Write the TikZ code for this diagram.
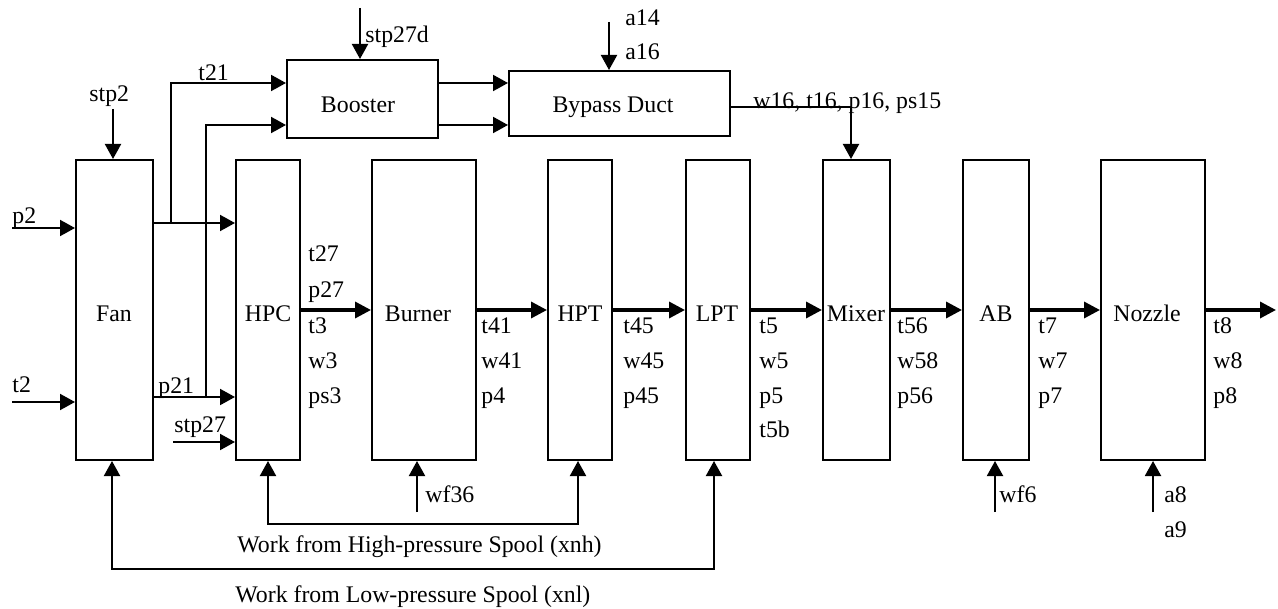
\documentclass[tikz,border=0pt]{standalone}
\usepackage{fontspec}
\setmainfont{Liberation Serif}
\usetikzlibrary{arrows.meta,fit}
\begin{document}
\begin{tikzpicture}[x=0.5pt,y=-0.5pt,
  box/.style={draw, line width=1pt, inner sep=0pt},
  flow/.style={line width=1.7pt, -{Triangle[length=8pt,width=8pt]}},
  arr/.style={line width=1pt, -{Triangle[length=7.5pt,width=8pt]}},
  biarr/.style={line width=1pt, {Triangle[length=7.5pt,width=8pt]}-{Triangle[length=7.5pt,width=8pt]}},
  lab/.style={anchor=base west, inner sep=0pt, font=\fontsize{11.9}{14}\selectfont},
  clab/.style={anchor=base, inner sep=0pt, font=\fontsize{11.9}{14}\selectfont},
]
\useasboundingbox (0,0) rectangle (1278,609);

% boxes
\node[box, fit={(76,160)(153,460)}] (fan) {};
\node[box, fit={(236,160)(300,460)}] (hpc) {};
\node[box, fit={(372,160)(476,460)}] (burner) {};
\node[box, fit={(548,160)(612,460)}] (hpt) {};
\node[box, fit={(686,160)(750,460)}] (lpt) {};
\node[box, fit={(823,160)(890,460)}] (mixer) {};
\node[box, fit={(963,160)(1029,460)}] (ab) {};
\node[box, fit={(1101,160)(1205,460)}] (nozzle) {};
\node[box, fit={(287,60)(438,138)}] (booster) {};
\node[box, fit={(509,71)(730,136)}] (bypass) {};

% box labels
\node[clab] (lfan) at (114,321) {Fan};
\node[clab] (lhpc) at (268,321) {HPC};
\node[clab] (lburner) at (418,321) {Burner};
\node[clab] (lhpt) at (580,321) {HPT};
\node[clab] (llpt) at (717,321) {LPT};
\node[clab] (lmixer) at (856,321) {Mixer};
\node[clab] (lab) at (996,321) {AB};
\node[clab] (lnozzle) at (1147,321) {Nozzle};
\node[clab] (lbooster) at (358,113) {Booster};
\node[clab] (lbypass) at (613,113) {Bypass Duct};

% main flow
\coordinate (out) at (1276,310);
\draw[flow] (hpc.east) -- (burner.west);
\draw[flow] (burner.east) -- (hpt.west);
\draw[flow] (hpt.east) -- (lpt.west);
\draw[flow] (lpt.east) -- (mixer.west);
\draw[flow] (mixer.east) -- (ab.west);
\draw[flow] (ab.east) -- (nozzle.west);
\draw[flow] (nozzle.east) -- (out);

% fan outputs
\coordinate (b1) at (171,223);
\coordinate (b2) at (206,397);
\draw[arr] (fan.east |- 0,223) -- (hpc.west |- 0,223);
\draw[arr] (b1) |- (booster.west |- 0,83);
\draw[arr] (fan.east |- 0,397) -- (hpc.west |- 0,397);
\draw[arr] (b2) |- (booster.west |- 0,125);

% inputs
\coordinate (s27) at (173,442);
\coordinate (p2in) at (12,228);
\coordinate (t2in) at (12,402);
\coordinate (stp2in) at (113,109);
\coordinate (s27d) at (360,8);
\coordinate (a14in) at (609,22);
\draw[arr] (s27) -- (hpc.west |- s27);
\draw[arr] (p2in) -- (fan.west |- p2in);
\draw[arr] (t2in) -- (fan.west |- t2in);
\draw[arr] (stp2in) -- (fan.north -| stp2in);
\draw[arr] (s27d) -- (booster.north -| s27d);
\draw[arr] (a14in) -- (bypass.north -| a14in);

% booster to bypass
\draw[arr] (booster.east |- 0,83) -- (bypass.west |- 0,83);
\draw[arr] (booster.east |- 0,125) -- (bypass.west |- 0,125);

% bypass to mixer
\draw[arr] (bypass.east |- 0,107) -| (mixer.north -| 851,0);

% spools
\draw[biarr] (hpc.south -| 268,0) -- ++(0,63) -| (hpt.south -| 578,0);
\draw[biarr] (fan.south -| 112,0) -- ++(0,108) -| (lpt.south -| 714,0);

% bottom inputs
\coordinate (wf36in) at (417,512);
\coordinate (wf6in) at (995,512);
\coordinate (a8in) at (1153,512);
\draw[arr] (wf36in) -- (burner.south -| wf36in);
\draw[arr] (wf6in) -- (ab.south -| wf6in);
\draw[arr] (a8in) -- (nozzle.south -| a8in);

% labels
\node[lab] (tstp2) at (89,102) {stp2};
\node[lab] (tt21) at (198,81) {t21};
\node[lab] (tp2) at (12,224) {p2};
\node[lab] (tt2) at (12,392) {t2};
\node[lab] (tp21) at (158,393) {p21};
\node[lab] (tstp27) at (174,432) {stp27};
\node[lab] (tstp27d) at (365,43) {stp27d};
\node[lab] (ta14) at (625,26) {a14};
\node[lab] (ta16) at (625,60) {a16};
\node[lab] (tw16) at (753,109) {w16, t16, p16, ps15};

\node[lab] at (308,262) {t27};
\node[lab] at (308,297) {p27};
\node[lab] at (308,333) {t3};
\node[lab] at (308,368) {w3};
\node[lab] at (308,403) {ps3};

\node[lab] at (481,333) {t41};
\node[lab] at (481,368) {w41};
\node[lab] at (481,403) {p4};

\node[lab] at (623,333) {t45};
\node[lab] at (623,368) {w45};
\node[lab] at (623,403) {p45};

\node[lab] at (759,333) {t5};
\node[lab] at (759,368) {w5};
\node[lab] at (759,403) {p5};
\node[lab] at (759,437) {t5b};

\node[lab] at (897,333) {t56};
\node[lab] at (897,368) {w58};
\node[lab] at (897,403) {p56};

\node[lab] at (1038,333) {t7};
\node[lab] at (1038,368) {w7};
\node[lab] at (1038,403) {p7};

\node[lab] at (1213,333) {t8};
\node[lab] at (1213,368) {w8};
\node[lab] at (1213,403) {p8};

\node[lab] (twf36) at (425,502) {wf36};
\node[lab] (twf6) at (999,502) {wf6};
\node[lab] (ta8) at (1164,502) {a8};
\node[lab] (ta9) at (1164,537) {a9};

\node[lab] (thigh) at (237,552) {Work from High-pressure Spool (xnh)};
\node[lab] (tlow) at (235,602) {Work from Low-pressure Spool (xnl)};
\end{tikzpicture}
\end{document}
